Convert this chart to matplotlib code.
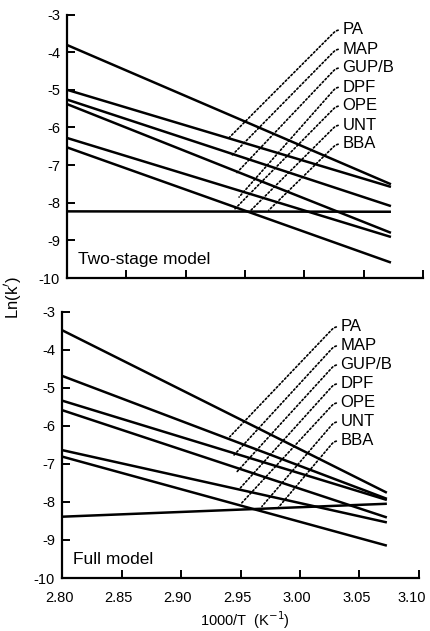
import numpy as np
import matplotlib
matplotlib.use("Agg")
import matplotlib.pyplot as plt
import matplotlib.transforms as mtransforms

plt.rcParams['font.family'] = ['Liberation Sans', 'DejaVu Sans']

# compounds, in label order
names = ["PA", "MAP", "GUP/B", "DPF", "OPE", "UNT", "BBA"]
x_ends = [2.80, 3.073]   # 1000/T range of each fitted line

# Ln(k') at the two ends of each line
two_start = [-3.81, -5.00, -5.26, -5.38, -6.28, -6.53, -8.23]
two_end = [-7.51, -7.58, -8.09, -8.80, -8.91, -9.59, -8.24]
full_start = [-3.49, -4.69, -5.34, -5.59, -6.64, -6.81, -8.39]
full_end = [-7.76, -7.92, -7.95, -8.41, -8.54, -9.15, -8.05]

# where the dotted leaders touch the plot
two_lead_x = [2.937, 2.939, 2.942, 2.945, 2.941, 2.955, 2.970]
two_lead_y = [-6.26, -6.74, -7.24, -7.85, -8.18, -8.20, -8.20]
full_lead_x = [2.941, 2.944, 2.947, 2.950, 2.951, 2.968, 2.982]
full_lead_y = [-6.29, -6.79, -7.21, -7.63, -8.03, -8.12, -8.14]

two_lab_x = 3.032
full_lab_x = 3.034
lab_y = [-3.41, -3.92, -4.42, -4.93, -5.43, -5.94, -6.44]
full_lab_y = [-3.40, -3.90, -4.40, -4.90, -5.40, -5.90, -6.40]

xticks = [2.80, 2.85, 2.90, 2.95, 3.00, 3.05, 3.10]
yticks = [-10, -9, -8, -7, -6, -5, -4, -3]

W, H = 430, 631
fig = plt.figure(figsize=(W / 100, H / 100), dpi=100)
ax1 = fig.add_axes([67 / W, 1 - 278 / H, 356 / W, 263.5 / H])
ax2 = fig.add_axes([62 / W, 1 - 578 / H, 357 / W, 266.5 / H])


def panel(ax, starts, ends, lx, ly, lab_x, laby, title, show_x):
    for s, e in zip(starts, ends):
        ax.plot(x_ends, [s, e], color='black', lw=1.8, solid_capstyle='butt')
    ax.set_xlim(2.80, 3.10)
    ax.set_ylim(-10, -3)
    ax.set_xticks(xticks)
    ax.set_yticks(yticks)
    ax.set_yticklabels([str(v) for v in yticks])
    if show_x:
        ax.set_xticklabels([f"{v:.2f}" for v in xticks])
    else:
        ax.set_xticklabels([])
    ax.tick_params(direction='in', length=6, width=1.4, labelsize=10.5)
    ax.tick_params(axis='x', pad=9)
    ax.tick_params(axis='y', pad=5)
    for sp in ['top', 'right']:
        ax.spines[sp].set_visible(False)
    for sp in ['left', 'bottom']:
        ax.spines[sp].set_linewidth(1.6)
    ax.text(0.031, 0.07, title, transform=ax.transAxes, fontsize=12.5,
            ha='left', va='center')

    # labels with dotted leader lines
    fig.canvas.draw()
    for name, ex, ey, ty in zip(names, lx, ly, laby):
        txt_pix = ax.transData.transform((lab_x, ty))
        end_pix = ax.transData.transform((ex, ey))
        cx = txt_pix[0] - 6
        ang = np.degrees(np.arctan2(txt_pix[1] - end_pix[1], cx - end_pix[0]))
        ax.annotate(name, xy=(ex, ey), xytext=(lab_x, ty),
                    fontsize=12, ha='left', va='center',
                    annotation_clip=False,
                    arrowprops=dict(arrowstyle='-', lw=1.2,
                                    linestyle=(0, (1, 1.4)),
                                    color='black', relpos=(0, 0.5),
                                    shrinkA=1, shrinkB=0,
                                    connectionstyle=f"angle,angleA=0,angleB={ang:.1f},rad=4"))


panel(ax1, two_start, two_end, two_lead_x, two_lead_y, two_lab_x, lab_y,
      "Two-stage model", False)
panel(ax2, full_start, full_end, full_lead_x, full_lead_y, full_lab_x, full_lab_y,
      "Full model", True)

# nudge the x tick labels a little to the left, as in the original
labels = ax2.get_xticklabels()
for i, lab in enumerate(labels):
    dx = -7 if i == len(labels) - 1 else -3
    lab.set_transform(lab.get_transform() +
                      mtransforms.ScaledTranslation(dx / 100, 0, fig.dpi_scale_trans))

fig.text(13 / W, 1 - 298 / H, "Ln(k$^{\\prime}$)", rotation=90,
         ha='center', va='center', fontsize=12)
fig.text(245 / W, 1 - 620 / H, "1000/T  (K$^{-1}$)", ha='center',
         va='center', fontsize=10.5)

fig.savefig("out.png", dpi=100)
